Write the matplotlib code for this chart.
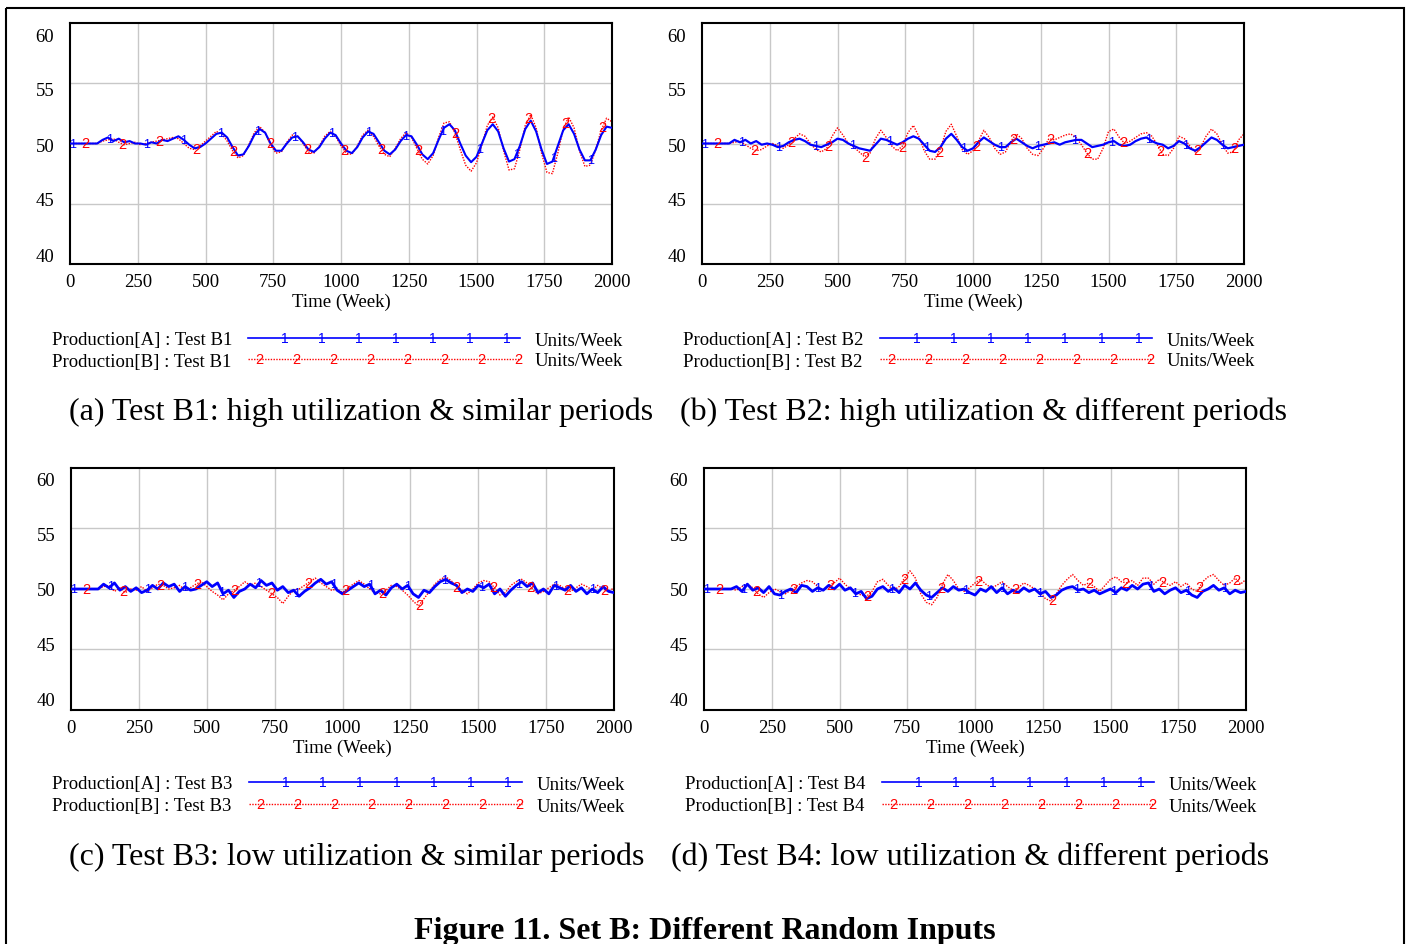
import numpy as np
import matplotlib
matplotlib.use("Agg")
import matplotlib.pyplot as plt
from matplotlib.patches import Rectangle

plt.rcParams['font.family'] = ['Liberation Serif', 'DejaVu Serif']

# ---------------- data ----------------
weeks = list(range(0, 2001, 20))

a_prod_A = [50.0, 50.0, 50.0, 50.0, 50.0, 50.0, 50.3, 50.5, 50.2, 50.4,
            50.1, 50.2, 50.0, 50.0, 49.9, 50.1, 50.0, 50.3, 50.2, 50.4,
            50.6, 50.3, 49.9, 49.6, 49.7, 50.0, 50.4, 50.8, 50.9, 50.5,
            49.7, 49.0, 49.1, 49.8, 50.7, 51.2, 50.9, 50.0, 49.4, 49.4,
            50.0, 50.5, 50.6, 50.1, 49.5, 49.3, 49.7, 50.4, 50.9, 50.7,
            50.0, 49.4, 49.2, 49.7, 50.5, 51.0, 50.8, 50.1, 49.4, 49.1,
            49.5, 50.2, 50.7, 50.6, 49.9, 49.1, 48.7, 49.2, 50.3, 51.3,
            51.6, 51.1, 50.0, 49.0, 48.45, 48.9, 50.0, 51.1, 51.6, 51.0,
            49.6, 48.5, 48.7, 49.8, 51.2, 51.9, 51.0, 49.5, 48.3, 48.5,
            49.8, 51.1, 51.6, 50.8, 49.5, 48.6, 48.6, 49.5, 50.7, 51.4,
            51.3]
a_prod_B = [50.0, 50.0, 50.0, 50.0, 50.0, 50.0, 50.2, 50.3, 50.4, 50.1,
            49.9, 50.0, 50.1, 49.9, 50.0, 50.1, 50.2, 50.3, 50.4, 50.5,
            50.4, 50.0, 49.6, 49.5, 49.8, 50.2, 50.6, 51.0, 50.8, 50.2,
            49.4, 48.8, 49.0, 49.9, 50.9, 51.4, 50.9, 49.9, 49.2, 49.3,
            50.1, 50.7, 50.6, 50.0, 49.3, 49.2, 49.8, 50.6, 51.0, 50.6,
            49.8, 49.2, 49.1, 49.8, 50.7, 51.1, 50.6, 49.8, 49.1, 48.9,
            49.6, 50.4, 50.9, 50.5, 49.6, 48.7, 48.3, 49.0, 50.5, 51.7,
            51.8, 50.9, 49.5, 48.2, 47.7, 48.4, 49.9, 51.5, 52.2, 51.3,
            49.4, 47.8, 47.9, 49.5, 51.5, 52.4, 51.3, 49.2, 47.6, 47.5,
            49.2, 51.2, 52.2, 51.3, 49.4, 48.1, 48.2, 49.5, 51.1, 52.1,
            51.8]

b_prod_A = [50.0, 50.0, 50.0, 50.0, 50.0, 50.0, 50.3, 50.1, 50.3, 50.0,
            50.2, 49.9, 50.0, 49.9, 49.7, 49.8, 50.1, 50.3, 50.4, 50.2,
            49.9, 49.8, 49.7, 49.9, 50.1, 50.4, 50.3, 50.0, 49.8, 49.6,
            49.5, 49.4, 49.9, 50.4, 50.3, 50.1, 49.9, 50.1, 50.4, 50.6,
            50.4, 49.9, 49.4, 49.3, 49.7, 50.4, 50.8, 50.3, 49.7, 49.4,
            49.6, 50.1, 50.5, 50.2, 49.9, 49.7, 49.7, 50.1, 50.4, 50.1,
            49.8, 49.6, 49.8, 49.9, 50.0, 50.1, 49.9, 50.1, 50.2, 50.3,
            50.3, 50.0, 49.7, 49.8, 49.9, 50.1, 50.2, 49.9, 49.8, 49.9,
            50.2, 50.4, 50.5, 50.2, 50.0, 49.9, 49.6, 49.8, 50.2, 50.0,
            49.6, 49.4, 49.7, 50.1, 50.5, 50.3, 49.9, 49.6, 49.7, 49.8,
            49.9]
b_prod_B = [50.0, 50.0, 50.0, 50.0, 50.0, 50.0, 50.1, 50.2, 49.9, 49.6,
            49.4, 49.5, 49.8, 50.0, 49.8, 49.6, 49.9, 50.4, 50.8, 50.6,
            50.0, 49.5, 49.3, 49.6, 50.6, 51.3, 50.7, 50.0, 49.7, 49.3,
            48.9, 49.2, 50.4, 51.1, 50.5, 49.8, 49.4, 49.8, 50.9, 51.5,
            50.6, 49.4, 48.7, 48.7, 49.6, 51.0, 51.6, 50.6, 49.5, 49.1,
            49.4, 50.2, 51.1, 50.5, 49.6, 49.1, 49.3, 50.2, 50.8, 50.4,
            49.6, 49.1, 49.0, 49.6, 50.4, 50.3, 50.5, 50.7, 50.8, 50.5,
            49.9, 49.2, 48.7, 48.7, 49.6, 51.0, 51.2, 50.5, 50.0, 50.2,
            50.5, 50.8, 50.9, 50.6, 49.9, 49.1, 49.0, 49.6, 50.6, 50.4,
            49.8, 49.3, 49.7, 50.6, 51.2, 50.8, 49.9, 49.2, 49.3, 50.3,
            50.8]

c_prod_A = [50.0, 50.0, 50.0, 50.0, 50.0, 50.0, 50.4, 50.1, 50.5, 49.9,
            50.2, 49.8, 50.1, 49.7, 49.9, 50.3, 50.0, 50.5, 50.2, 50.4,
            49.8, 50.2, 49.9, 50.0, 50.3, 50.6, 50.2, 50.5, 49.6, 49.9,
            49.3, 49.8, 50.0, 50.4, 50.1, 50.7, 50.3, 50.5, 49.9, 50.2,
            49.7, 49.9, 49.4, 49.8, 50.1, 50.5, 50.8, 50.4, 50.6, 49.9,
            49.6, 49.9, 50.2, 50.5, 50.2, 50.4, 49.6, 49.9, 49.5, 50.1,
            50.4, 50.0, 50.3, 49.6, 49.3, 49.9, 49.7, 50.2, 50.6, 50.8,
            50.5, 50.3, 49.7, 50.0, 49.8, 50.3, 50.1, 50.4, 49.6, 50.0,
            49.4, 49.9, 50.3, 50.6, 50.2, 50.5, 49.7, 50.0, 49.6, 50.3,
            50.1, 49.9, 50.3, 49.8, 50.1, 49.6, 50.0, 49.7, 50.2, 49.8,
            49.7]
c_prod_B = [50.0, 50.0, 50.0, 50.0, 50.0, 50.0, 50.2, 50.3, 49.8, 50.1,
            49.7, 50.0, 49.9, 50.2, 49.8, 50.1, 50.4, 50.3, 50.0, 50.1,
            50.3, 49.9, 50.1, 50.4, 50.6, 50.2, 49.8, 49.5, 49.1, 49.6,
            49.9, 50.2, 50.6, 50.3, 50.5, 50.2, 49.9, 49.6, 49.3, 48.8,
            49.4, 49.9, 50.0, 50.3, 50.6, 50.9, 50.5, 50.2, 49.9, 50.0,
            49.7, 50.1, 50.4, 50.7, 50.4, 50.0, 49.7, 49.6, 49.9, 50.3,
            50.2, 49.9, 49.5, 49.0, 48.6, 49.2, 49.8, 50.4, 50.8, 51.0,
            50.7, 50.2, 49.9, 49.6, 50.0, 50.5, 50.7, 50.6, 50.1, 49.5,
            49.7, 50.3, 50.6, 50.8, 50.5, 50.0, 49.6, 49.8, 50.1, 50.4,
            50.3, 50.0, 49.8, 50.1, 50.4, 50.2, 49.9, 50.3, 50.0, 49.8,
            50.1]

d_prod_A = [50.0, 50.0, 50.0, 50.0, 50.0, 50.0, 50.2, 49.8, 50.4, 49.9,
            50.1, 49.7, 50.2, 49.6, 49.5, 49.8, 50.0, 49.7, 50.3, 50.2,
            49.8, 50.1, 49.9, 50.3, 50.0, 50.4, 49.9, 50.1, 49.6, 49.8,
            49.2, 49.4, 50.0, 50.2, 49.8, 50.1, 49.7, 50.3, 50.0, 50.5,
            49.9, 49.5, 49.3, 49.7, 50.1, 49.8, 50.2, 49.9, 50.0, 49.7,
            49.5, 50.0, 49.8, 50.2, 49.7, 50.1, 49.6, 49.9, 49.7, 50.1,
            49.8, 50.0, 49.6, 49.8, 49.3, 49.5, 49.9, 50.1, 50.2, 49.9,
            50.0, 49.7, 49.9, 49.6, 49.8, 50.0, 49.7, 50.1, 49.9, 50.3,
            50.0, 50.4, 50.5, 49.8, 50.0, 49.6, 49.9, 50.1, 49.7, 49.9,
            49.5, 49.3, 49.8, 50.0, 50.3, 49.9, 50.1, 49.6, 49.9, 49.7,
            49.8]
d_prod_B = [50.0, 50.0, 50.0, 50.0, 50.0, 50.0, 49.9, 50.2, 50.4, 50.1,
            49.6, 49.3, 49.7, 50.0, 49.8, 49.6, 49.9, 50.2, 50.5, 50.7,
            50.6, 50.2, 49.9, 50.3, 50.5, 50.9, 50.4, 50.0, 49.7, 49.5,
            49.4, 49.8, 50.6, 50.8, 50.3, 49.9, 50.2, 50.9, 51.5, 50.9,
            49.6, 48.9, 48.7, 49.3, 50.4, 51.2, 50.7, 50.0, 49.8, 50.1,
            50.5, 50.8, 50.4, 50.1, 50.3, 50.6, 50.2, 49.9, 50.1, 50.5,
            50.3, 50.0, 49.7, 49.2, 49.0, 49.6, 50.3, 50.8, 51.2, 50.7,
            50.3, 50.5, 50.2, 49.8, 50.3, 50.8, 51.0, 50.6, 50.5, 50.7,
            50.3, 50.9, 50.9, 50.4, 50.8, 50.5, 50.3, 50.6, 50.2, 50.5,
            50.0, 49.8, 50.6, 51.0, 51.2, 50.7, 50.3, 50.5, 50.9, 50.4,
            50.8]

x_ticks = [0, 250, 500, 750, 1000, 1250, 1500, 1750, 2000]
y_ticks = [60, 55, 50, 45, 40]
test_names = ["Test B1", "Test B2", "Test B3", "Test B4"]
captions = ["(a) Test B1: high utilization & similar periods",
            "(b) Test B2: high utilization & different periods",
            "(c) Test B3: low utilization & similar periods",
            "(d) Test B4: low utilization & different periods"]
title = "Figure 11. Set B: Different Random Inputs"
series = [(a_prod_A, a_prod_B), (b_prod_A, b_prod_B),
          (c_prod_A, c_prod_B), (d_prod_A, d_prod_B)]

# ---------------- layout ----------------
W, H = 1409, 945
fig = plt.figure(figsize=(W / 100, H / 100), dpi=100)

BLUE = '#0000ff'
RED = '#ff0000'
FS = 13.5
SANS = ['Liberation Sans', 'DejaVu Sans']

panels = [  # left, top, right, bottom (pixels)
    (70, 24, 612, 265),
    (702, 24, 1244, 265),
    (71, 469, 614, 711),
    (704, 469, 1246, 711),
]
blue_lw = [1.5, 1.6, 2.0, 2.0]
legends = [  # text_x, line_x0, line_x1, units_x, y1, y2
    (52, 248, 520, 535, 341, 362),
    (683, 880, 1152, 1167, 341, 362),
    (52, 249, 522, 537, 785, 807),
    (685, 882, 1154, 1169, 785, 807),
]
caption_pos = [(69, 412), (680, 412), (69, 857), (671, 857)]

mark1 = [10 + k * 136.5 for k in range(15)]
mark2 = [55 + k * 136.5 for k in range(15)]

for i, (l, t, r, b) in enumerate(panels):
    ax = fig.add_axes([l / W, 1 - b / H, (r - l) / W, (b - t) / H])
    ax.set_xlim(0, 2000)
    ax.set_ylim(40, 60)
    for v in x_ticks[1:-1]:
        ax.axvline(v, color='#c8c8c8', lw=1.0, zorder=0)
    for v in [45, 50, 55]:
        ax.axhline(v, color='#c8c8c8', lw=1.0, zorder=0)
    sA, sB = series[i]
    ax.plot(weeks, sB, color=RED, lw=1.0, ls=(0, (1, 1)), zorder=2)
    ax.plot(weeks, sA, color=BLUE, lw=blue_lw[i], zorder=3)
    for wk in mark2:
        ax.text(wk, np.interp(wk, weeks, sB), "2", color=RED, fontsize=10.5,
                family=SANS, ha='center', va='center', zorder=4)
    for wk in mark1:
        ax.text(wk, np.interp(wk, weeks, sA), "1", color=BLUE, fontsize=9,
                family=SANS, ha='center', va='center', zorder=4)
    ax.set_xticks(x_ticks)
    ax.set_xticklabels([str(v) for v in x_ticks], fontsize=FS)
    ax.tick_params(axis='x', length=0, pad=6.5)
    ax.set_yticks([])
    hpx = b - t
    for v in y_ticks:
        ypx = 11 + (60 - v) * 11 + 2   # pixels below top
        ax.text(-25 / (r - l), 1 - ypx / hpx, str(v), transform=ax.transAxes,
                ha='center', va='center', fontsize=FS)
    for s in ax.spines.values():
        s.set_linewidth(1.5)
        s.set_color('black')
    ax.set_xlabel("Time (Week)", fontsize=FS, labelpad=2)

# overlay for legends, captions, title, frame
ov = fig.add_axes([0, 0, 1, 1])
ov.set_xlim(0, W)
ov.set_ylim(H, 0)
ov.axis('off')
ov.patch.set_alpha(0)

for i, (tx, x0, x1, ux, y1, y2) in enumerate(legends):
    ov.text(tx, y1, "Production[A] : " + test_names[i], fontsize=FS, ha='left', va='center')
    ov.text(tx, y2, "Production[B] : " + test_names[i], fontsize=FS, ha='left', va='center')
    ov.plot([x0, x1], [y1 - 2, y1 - 2], color=BLUE, lw=1.2)
    ov.plot([x0, x1], [y2 - 2, y2 - 2], color=RED, lw=1.0, ls=(0, (1, 1)))
    for k in range(7):
        ov.text(x0 + 37 + k * 37, y1 - 2, "1", color=BLUE, fontsize=10,
                family=SANS, ha='center', va='center')
    for k in range(8):
        ov.text(x0 + 11 + k * 37, y2 - 2, "2", color=RED, fontsize=10.5,
                family=SANS, ha='center', va='center')
    ov.text(ux, y1, "Units/Week", fontsize=FS, ha='left', va='center')
    ov.text(ux, y2, "Units/Week", fontsize=FS, ha='left', va='center')

for i, (cx, cy) in enumerate(caption_pos):
    ov.text(cx, cy, captions[i], fontsize=23, ha='left', va='center')

ov.text(705, 931, title, fontsize=23, fontweight='bold', ha='center', va='center')
ov.add_patch(Rectangle((6, 9), 1398, 960, fill=False, lw=1.5, ec='black'))

fig.savefig("out.png", dpi=100)
